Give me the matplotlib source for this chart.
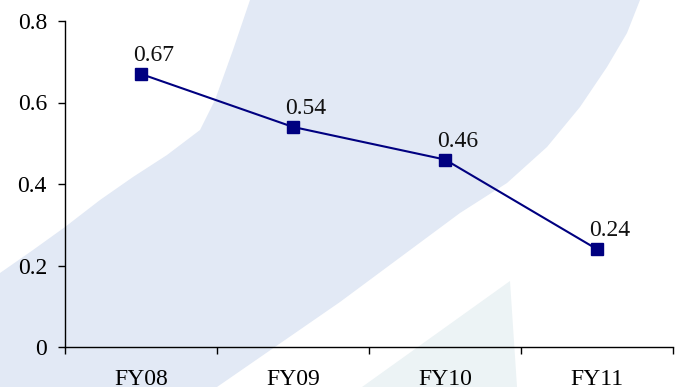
import matplotlib.pyplot as plt
from matplotlib.patches import Polygon

# Ratio by fiscal year
years = ["FY08", "FY09", "FY10", "FY11"]
ratio = [0.67, 0.54, 0.46, 0.24]
y_ticks = [0, 0.2, 0.4, 0.6, 0.8]
y_tick_labels = ["0", "0.2", "0.4", "0.6", "0.8"]

W, H = 680, 387
FS = 17

plt.rcParams["font.family"] = ["Liberation Serif", "DejaVu Serif"]

fig = plt.figure(figsize=(W / 100, H / 100), dpi=100)


def to_fig(pts):
    # pixel points (origin top-left) -> figure fraction
    return [(x / W, 1 - y / H) for x, y in pts]


# light watermark swoosh behind the chart
swoosh = [
    (250, 0), (640, 0), (627, 33), (607, 67), (580, 107), (547, 147),
    (507, 183), (460, 213), (340, 302), (217, 387), (0, 387), (0, 273),
    (33, 250), (65, 227), (100, 200), (133, 177), (167, 155), (200, 130),
    (215, 100), (233, 50),
]
fig.patches.append(Polygon(to_fig(swoosh), closed=True, transform=fig.transFigure,
                           facecolor="#e2e9f5", edgecolor="none", zorder=-2))
wedge = [(510, 281), (517, 387), (362, 387)]
fig.patches.append(Polygon(to_fig(wedge), closed=True, transform=fig.transFigure,
                           facecolor="#ecf3f5", edgecolor="none", zorder=-1))

ax = fig.add_axes([65 / W, 1 - 347 / H, (673 - 65) / W, (347 - 21) / H])
ax.patch.set_alpha(0)

x = range(len(years))
ax.plot(x, ratio, color="#000080", linewidth=1.5, marker="s", markersize=9,
        markerfacecolor="#000080", markeredgecolor="#000080", zorder=3)

for i, v in enumerate(ratio):
    ax.annotate(f"{v:.2f}", (i, v), xytext=(-8, 13), textcoords="offset pixels",
                ha="left", va="baseline", fontsize=FS, color="#111111")

ax.set_xlim(-0.5, len(years) - 0.5)
ax.set_ylim(0, 0.8)

# category ticks sit on the boundaries between years
ax.set_xticks([i - 0.5 for i in range(len(years) + 1)])
ax.set_xticklabels([])
ax.set_xticks(list(x), minor=True)
ax.set_xticklabels(years, minor=True, fontsize=FS)
ax.tick_params(axis="x", which="major", direction="out", length=5, width=1)
ax.tick_params(axis="x", which="minor", length=0, pad=16)

ax.set_yticks(y_ticks)
ax.set_yticklabels(y_tick_labels, fontsize=FS)
ax.tick_params(axis="y", direction="out", length=5, width=1, pad=8)

ax.spines["top"].set_visible(False)
ax.spines["right"].set_visible(False)
for s in ("left", "bottom"):
    ax.spines[s].set_linewidth(1)

fig.savefig("out.png", dpi=100)
